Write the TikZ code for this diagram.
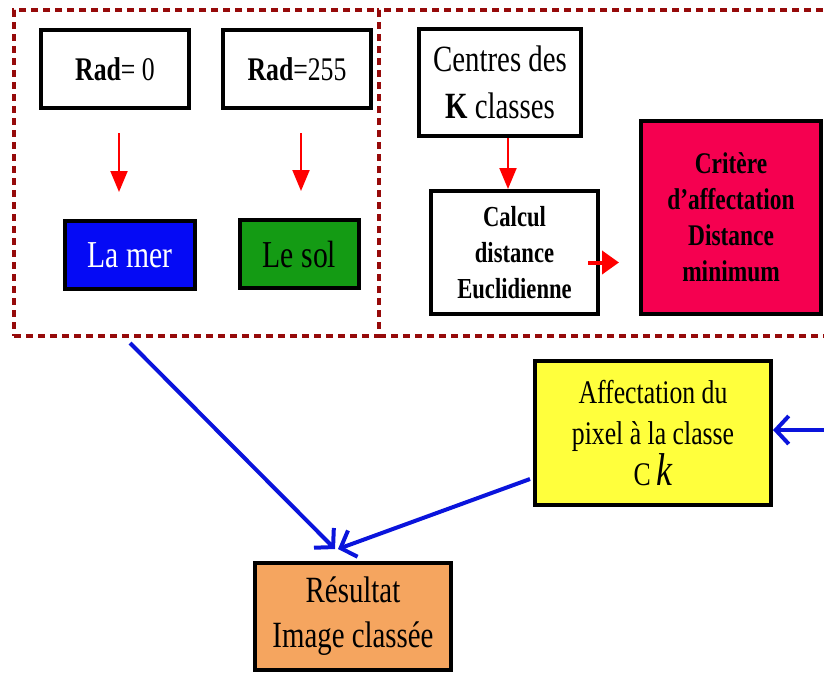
\documentclass[tikz,border=0pt]{standalone}
\usepackage{fontspec}
\setmainfont{Liberation Serif}[FakeStretch=0.78]
\usetikzlibrary{arrows.meta, calc, positioning}
\definecolor{bordeaux}{RGB}{150,10,10}
\definecolor{mer}{RGB}{5,10,245}
\definecolor{sol}{RGB}{20,155,20}
\definecolor{critere}{RGB}{245,0,80}
\definecolor{jaune}{RGB}{255,255,60}
\definecolor{orange}{RGB}{245,165,95}
\definecolor{bleu}{RGB}{10,20,220}
\newcommand{\taille}[2]{\fontsize{#1}{#2}\selectfont}

\begin{document}
\begin{tikzpicture}[x=1pt, y=-1pt,
    boite/.style={draw, line width=4pt, inner sep=0pt, align=center},
    cadre/.style={draw=bordeaux, line width=3.5pt, dash pattern=on 7pt off 5pt, inner sep=0pt},
    rouge/.style={red, line width=2pt, -{Triangle[length=21pt,width=17pt]}},
    bleue/.style={bleu, line width=4pt, -{Straight Barb[length=13pt,width=28pt]}}]
\useasboundingbox (0,0) rectangle (824,675);

% les deux cadres
\node[cadre, minimum width=365pt, minimum height=326pt] (gauche) at (196.5,173) {};
\node[cadre, minimum width=461pt, minimum height=326pt] (droite) at (609.5,173) {};

% cadre de gauche
\node[boite, minimum width=148pt, minimum height=78pt, font=\taille{33}{40}] (rad0) at (115,69) {\textbf{Rad}= 0};
\node[boite, minimum width=148pt, minimum height=78pt, font=\taille{33}{40}] (rad255) at (297,69) {\textbf{Rad}=255};
\node[boite, fill=mer, text=white, minimum width=130pt, minimum height=68pt, font=\taille{38}{44}] (lamer) at (130,255) {La mer};
\node[boite, fill=sol, minimum width=119pt, minimum height=68pt, font=\taille{38}{44}] (lesol) at (299.5,254) {Le sol};
\draw[rouge, shorten <=23pt, shorten >=27pt] ([xshift=4pt]rad0.south) -- ([xshift=4pt]rad0.south |- lamer.north);
\draw[rouge, shorten <=23pt, shorten >=27pt] ([xshift=4pt]rad255.south) -- ([xshift=4pt]rad255.south |- lesol.north);

% cadre de droite
\node[boite, minimum width=162pt, minimum height=107pt, font=\taille{37}{47}] (centres) at (500,82.5) {Centres des\\\textbf{K} classes};
\node[boite, minimum width=167pt, minimum height=123pt, font=\bfseries\taille{29}{36}] (calcul) at (514.5,252.5) {Calcul\\distance\\Euclidienne};
\node[boite, fill=critere, minimum width=180pt, minimum height=193pt, font=\bfseries\taille{30}{36}] (crit) at (731,217.5) {Critère\\d’affectation\\Distance\\minimum};
\draw[rouge] ([xshift=8pt]centres.south) -- ([xshift=8pt]centres.south |- calcul.north);
\draw[red, line width=4pt, -{Triangle[length=17pt,width=23pt]}, shorten <=-12pt, shorten >=20pt] ([yshift=-10pt]calcul.east) -- ([yshift=-10pt]calcul.east -| crit.west);

% en bas
\node[boite, fill=jaune, minimum width=236pt, minimum height=144pt, font=\taille{33}{41}] (affect) at (653,433) {Affectation du\\pixel à la classe\\C\,{\taille{46}{41}\itshape k}};
\node[boite, fill=orange, minimum width=196pt, minimum height=107pt, font=\taille{37}{45}] (result) at (353,616.5) {Résultat\\Image classée};
\coordinate (depart) at (130,343);
\coordinate (bord) at (830,430);
\draw[bleue] (depart) -- ($(result.north)+(-18,-12)$);
\draw[bleue] ($(affect.west)+(-3,46)$) -- ($(result.north)+(-15,-12)$);
\draw[bleue] (bord) -- ([yshift=3pt]affect.east);
\end{tikzpicture}
\end{document}
